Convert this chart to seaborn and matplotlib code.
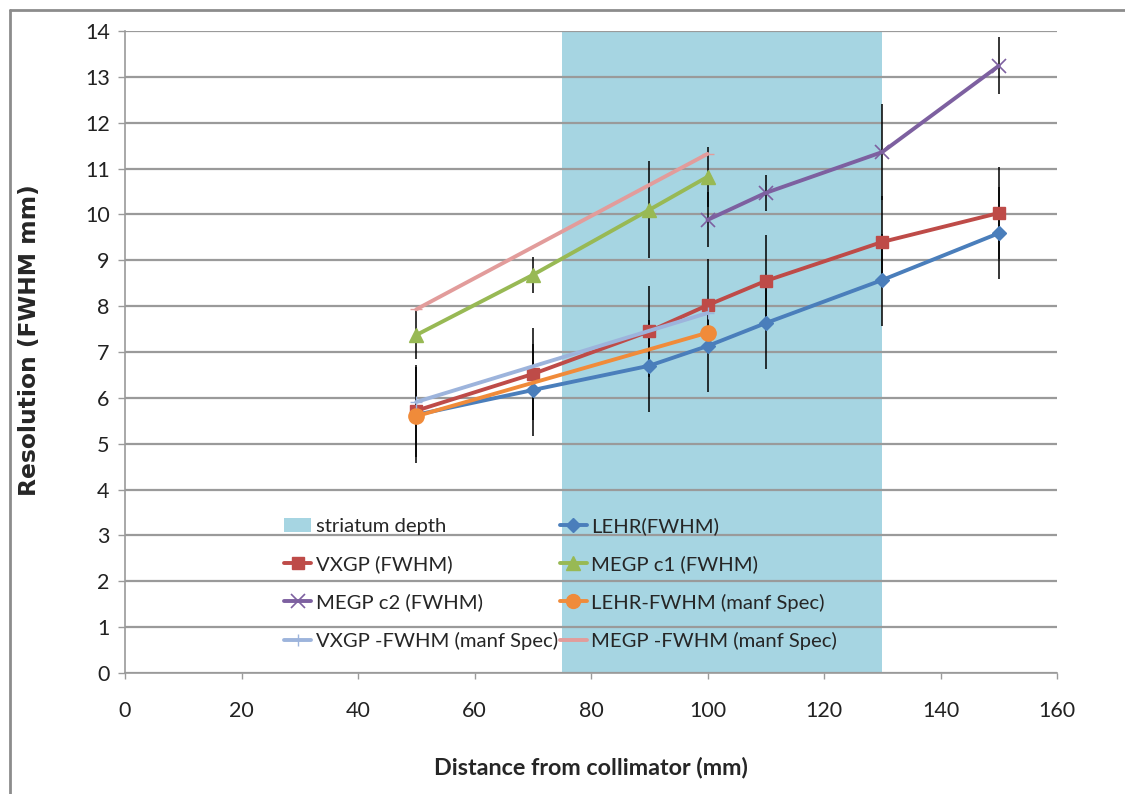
import matplotlib
matplotlib.use("Agg")
import matplotlib.pyplot as plt
import seaborn as sns
import pandas as pd
from matplotlib.patches import Patch
from matplotlib.lines import Line2D

# ---- data ----
x_main = [50, 70, 90, 100, 110, 130, 150]
lehr = [5.63, 6.17, 6.70, 7.13, 7.63, 8.57, 9.59]
lehr_err = [1.04, 1.0, 1.0, 1.0, 1.0, 1.0, 1.0]
vxgp = [5.72, 6.52, 7.45, 8.02, 8.55, 9.40, 10.03]
vxgp_err = [1.0, 1.0, 1.0, 1.0, 1.0, 1.0, 1.0]

x_megp1 = [50, 70, 90, 100]
megp1 = [7.37, 8.68, 10.10, 10.82]
megp1_err = [0.53, 0.39, 1.06, 0.65]

x_megp2 = [100, 110, 130, 150]
megp2 = [9.88, 10.47, 11.36, 13.24]
megp2_err = [0.60, 0.40, 1.05, 0.62]

x_spec = [50, 100]
lehr_spec = [5.60, 7.42]
vxgp_spec = [5.91, 7.85]
megp_spec = [7.93, 11.32]

striatum = (75, 130)

x_ticks = [0, 20, 40, 60, 80, 100, 120, 140, 160]
y_ticks = list(range(0, 15))

# ---- styling ----
sns.set_theme(style="white")
plt.rcParams['font.family'] = ['Lato', 'DejaVu Sans']

c_lehr = "#4A7EBB"
c_vxgp = "#BE4B48"
c_megp1 = "#98B954"
c_megp2 = "#7D60A0"
c_lehr_s = "#F08B3A"
c_vxgp_s = "#9DB4DC"
c_megp_s = "#E29C9B"
c_span = "#A6D5E2"
c_grid = "#9A9A9A"

W, H = 1125, 794
fig = plt.figure(figsize=(W/100, H/100), dpi=100)
ax = fig.add_axes([125/W, 1-673/H, (1057-125)/W, (673-31)/H])
AW, AH = 1057-125, 673-31

ax.axvspan(striatum[0], striatum[1], color=c_span, zorder=0.2, lw=0)

def series(xs, ys, color, marker, ms, errs=None, mew=1.0):
    df = pd.DataFrame({"x": xs, "y": ys})
    if errs is not None:
        ax.errorbar(xs, ys, yerr=errs, fmt='none', ecolor='black', elinewidth=1.1,
                    capsize=0, zorder=2.5)
    sns.lineplot(data=df, x="x", y="y", ax=ax, color=color, lw=2.8, marker=marker,
                 markersize=ms, markeredgecolor=color, markeredgewidth=mew,
                 legend=False, zorder=3)

series(x_main, lehr, c_lehr, 'D', 7, lehr_err)
series(x_main, vxgp, c_vxgp, 's', 9, vxgp_err)
series(x_megp1, megp1, c_megp1, '^', 10, megp1_err)
series(x_megp2, megp2, c_megp2, 'x', 10, megp2_err, mew=1.2)
series(x_spec, lehr_spec, c_lehr_s, 'o', 11)
series(x_spec, vxgp_spec, c_vxgp_s, '+', 8)
series(x_spec, megp_spec, c_megp_s, '_', 8)

ax.set_xlim(0, 160)
ax.set_ylim(0, 14)
ax.set_xticks(x_ticks)
ax.set_yticks(y_ticks)
ax.tick_params(axis='both', labelsize=15.5, colors='#222222', width=1,
               direction='out', color=c_grid)
ax.tick_params(axis='y', left=True, length=5, pad=6)
ax.tick_params(axis='x', bottom=True, length=4, pad=16)
ax.yaxis.grid(True, color=c_grid, lw=1.6, zorder=0.5)
ax.set_axisbelow(True)
for s in ['top', 'right']:
    ax.spines[s].set_visible(False)
for s in ['left', 'bottom']:
    ax.spines[s].set_color(c_grid)
    ax.spines[s].set_linewidth(1.2)

ax.set_xlabel("Distance from collimator (mm)", fontsize=16.8, fontweight='bold')
ax.xaxis.set_label_coords(((433+748)/2-125)/AW, (673-767)/AH)
ax.xaxis.label.set_va('center')
ax.set_ylabel("Resolution (FWHM mm)", fontsize=16.8, fontweight='bold',
              family=['DejaVu Sans'])
ax.yaxis.set_label_coords((30-125)/AW, (673-340)/AH)
ax.yaxis.label.set_va('center')

# legend (column-major order)
def lh(color, marker, ms, mew=1.0):
    return Line2D([], [], color=color, lw=2.8, marker=marker, markersize=ms,
                  markeredgecolor=color, markeredgewidth=mew)

handles = [
    Patch(facecolor=c_span, edgecolor='none'),
    lh(c_vxgp, 's', 9),
    lh(c_megp2, 'x', 10, 1.2),
    lh(c_vxgp_s, '+', 8),
    lh(c_lehr, 'D', 7),
    lh(c_megp1, '^', 10),
    lh(c_lehr_s, 'o', 10),
    lh(c_megp_s, None, 0),
]
labels = ["striatum depth", "VXGP (FWHM)", "MEGP c2 (FWHM)", "VXGP -FWHM (manf Spec)",
          "LEHR(FWHM)", "MEGP c1 (FWHM)", "LEHR-FWHM (manf Spec)", "MEGP -FWHM (manf Spec)"]
leg = ax.legend(handles, labels, ncol=2, loc='upper left',
                bbox_to_anchor=((276-125)/AW, (673-509)/AH), frameon=False,
                fontsize=14.6, handlelength=1.35, handletextpad=0.2, columnspacing=0.1,
                labelspacing=1.0, borderaxespad=0)

# figure frame lines (left and top)
fig.add_artist(Line2D([10/W, 10/W], [0, 1-10/H], transform=fig.transFigure,
                      color='#8C8C8C', lw=2))
fig.add_artist(Line2D([10/W, 1], [1-10/H, 1-10/H], transform=fig.transFigure,
                      color='#8C8C8C', lw=2))

fig.savefig("out.png", dpi=100)
